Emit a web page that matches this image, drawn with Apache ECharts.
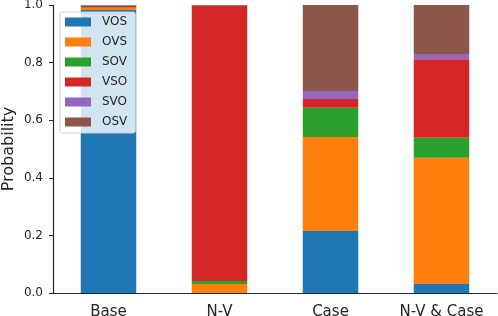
<!DOCTYPE html>
<html><head><meta charset="utf-8">
<script src="https://cdn.jsdelivr.net/npm/echarts@6/dist/echarts.min.js"></script>
<style>html,body{margin:0;padding:0;background:#fff}#c{width:498px;height:316px}</style>
</head><body><div id="c"></div>
<script>
const categories = ['Base', 'N-V', 'Case', 'N-V & Case'];
const seriesNames = ['VOS', 'OVS', 'SOV', 'VSO', 'SVO', 'OSV'];
const VOS = [0.983, 0.000, 0.215, 0.031];
const OVS = [0.007, 0.031, 0.327, 0.439];
const SOV = [0.002, 0.011, 0.101, 0.069];
const VSO = [0.005, 0.955, 0.031, 0.273];
const SVO = [0.001, 0.000, 0.027, 0.018];
const OSV = [0.002, 0.003, 0.299, 0.170];
const yTicks = [0, 0.2, 0.4, 0.6, 0.8, 1.0];
const colors = ['#1f77b4', '#ff7f0e', '#2ca02c', '#d62728', '#9467bd', '#8c564b'];
const values = [VOS, OVS, SOV, VSO, SVO, OSV];

const font = 'DejaVu Sans';
const chart = echarts.init(document.getElementById('c'));
chart.setOption({
  animation: false,
  color: colors,
  grid: {left: 53, right: 1, top: 5, bottom: 23, containLabel: false, outerBoundsMode: 'none'},
  legend: {
    orient: 'vertical', left: 60, top: 12,
    data: seriesNames,
    icon: 'rect', itemWidth: 26, itemHeight: 9, itemGap: 8,
    padding: [4, 8, 5, 5],
    backgroundColor: 'rgba(255,255,255,0.8)',
    borderColor: '#d0d0d0', borderWidth: 1, borderRadius: 2,
    textStyle: {fontFamily: font, fontSize: 12, color: '#262626', padding: [0, 0, 0, 6]}
  },
  xAxis: {
    type: 'category', data: categories,
    axisLine: {lineStyle: {color: '#262626', width: 1.2}},
    axisTick: {alignWithLabel: true, length: 4, lineStyle: {color: '#262626'}},
    axisLabel: {fontFamily: font, fontSize: 15, color: '#262626', margin: 12, interval: 0, hideOverlap: false}
  },
  yAxis: {
    type: 'value', min: 0, max: 1, interval: 0.2,
    name: 'Probability', nameLocation: 'middle', nameGap: 36, nameMoveOverlap: false,
    nameTextStyle: {fontFamily: font, fontSize: 16, color: '#262626'},
    axisLine: {show: true, lineStyle: {color: '#262626', width: 1.2}},
    axisTick: {show: true, length: 4, lineStyle: {color: '#262626'}},
    axisLabel: {fontFamily: font, fontSize: 12, color: '#262626', margin: 10,
      formatter: v => yTicks.includes(+v.toFixed(1)) ? v.toFixed(1) : ''},
    splitLine: {show: false}
  },
  series: seriesNames.map((n, i) => ({
    name: n, type: 'bar', stack: 'all', barWidth: '50%',
    data: values[i]
  }))
});
</script></body></html>
